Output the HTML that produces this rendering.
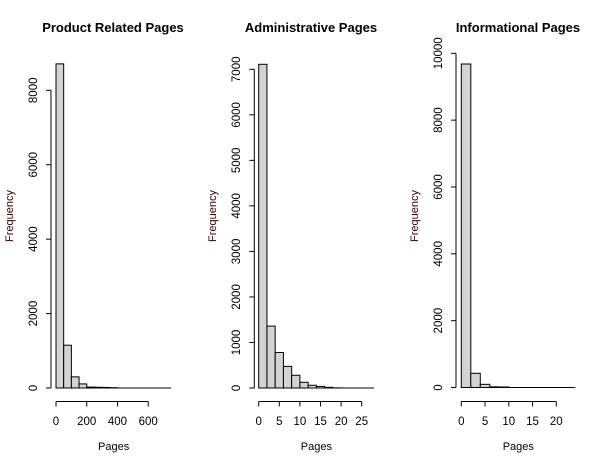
<!DOCTYPE html>
<html><head><meta charset="utf-8"><style>
body{margin:0;background:#fff;}
svg{display:block;font-family:"Liberation Sans",Arial,sans-serif;}
</style></head><body>
<svg id="chart" width="607" height="466" viewBox="0 0 607 466" xmlns="http://www.w3.org/2000/svg"></svg>
<script>
// Product Related Pages
const productBinWidth = 50;
const productCounts = [8710, 1150, 300, 110, 25, 20, 15, 8, 0, 0, 0, 0, 0, 0, 0];
const productXTicks = [0, 200, 400, 600];
const productYTicks = [0, 2000, 4000, 6000, 8000];
// Administrative Pages
const adminBinWidth = 2;
const adminCounts = [7110, 1360, 780, 475, 280, 125, 60, 35, 15, 3, 0, 0, 0, 0];
const adminXTicks = [0, 5, 10, 15, 20, 25];
const adminYTicks = [0, 1000, 2000, 3000, 4000, 5000, 6000, 7000];
// Informational Pages
const infoBinWidth = 2;
const infoCounts = [9680, 425, 95, 20, 15, 0, 0, 0, 0, 0, 0, 0];
const infoXTicks = [0, 5, 10, 15, 20];
const infoYTicks = [0, 2000, 4000, 6000, 8000, 10000];
const titles = ["Product Related Pages", "Administrative Pages", "Informational Pages"];

const svg = document.getElementById('chart');
const NS = 'http://www.w3.org/2000/svg';
function mk(tag, attrs, parent) {
  const e = document.createElementNS(NS, tag);
  for (const k in attrs) e.setAttribute(k, attrs[k]);
  (parent || svg).appendChild(e);
  return e;
}

const panels = [
  {key:'product', counts:productCounts, bw:productBinWidth, xt:productXTicks, yt:productYTicks,
   x0:56, xs:0.1537, y0:388, ys:(388-90.3)/8000, yAxisX:51, yLabX:37, freqX:9, titleX:113},
  {key:'admin', counts:adminCounts, bw:adminBinWidth, xt:adminXTicks, yt:adminYTicks,
   x0:258.7, xs:4.12, y0:388, ys:(388-69.3)/7000, yAxisX:254.3, yLabX:240, freqX:212, titleX:311},
  {key:'info', counts:infoCounts, bw:infoBinWidth, xt:infoXTicks, yt:infoYTicks,
   x0:461.3, xs:4.75, y0:387.5, ys:(387.5-53.3)/10000, yAxisX:456, yLabX:442, freqX:414, titleX:518}
];

panels.forEach((p, pi) => {
  const g = mk('g', {});
  
  
  const X = v => p.x0 + v * p.xs;
  const Y = v => p.y0 - v * p.ys;

  const t = mk('text', {x:p.titleX, y:32, 'text-anchor':'middle', 'font-size':13, 'font-weight':'bold', fill:'#000'}, g);
  t.textContent = titles[pi];
  
  

  // baseline across all bins (zero-count bars)
  const bl = mk('line', {x1:X(0), x2:X(p.counts.length*p.bw), y1:p.y0, y2:p.y0, stroke:'#000'}, g);
  
  

  p.counts.forEach((c, i) => {
    if (c <= 0) return;
    const r = mk('rect', {x:X(i*p.bw), y:Y(c), width:p.bw*p.xs, height:c*p.ys, fill:'#d3d3d3', stroke:'#000', 'stroke-width':1}, g);
    
    
  });

  // y axis
  const yt = p.yt;
  const ya = mk('line', {x1:p.yAxisX, x2:p.yAxisX, y1:Y(yt[0]), y2:Y(yt[yt.length-1]), stroke:'#000'}, g);
  
  
  yt.forEach(v => {
    mk('line', {x1:p.yAxisX-5, x2:p.yAxisX, y1:Y(v), y2:Y(v), stroke:'#000'}, g);
    const tx = mk('text', {x:0, y:0, 'text-anchor':'middle', 'font-size':11.5, fill:'#000',
      transform:`translate(${p.yLabX},${Y(v)}) rotate(-90)`}, g);
    tx.textContent = v;
    
    
  });
  const fy = mk('text', {x:0, y:0, 'text-anchor':'middle', 'font-size':11, fill:'#300',
    transform:`translate(${p.freqX+4},216) rotate(-90)`}, g);
  fy.textContent = 'Frequency';
  
  

  // x axis
  const xt = p.xt;
  const axY = 401.5;
  const xa = mk('line', {x1:X(xt[0]), x2:X(xt[xt.length-1]), y1:axY, y2:axY, stroke:'#000'}, g);
  
  
  xt.forEach(v => {
    mk('line', {x1:X(v), x2:X(v), y1:axY, y2:axY+5, stroke:'#000'}, g);
    const tx = mk('text', {x:X(v), y:425, 'text-anchor':'middle', 'font-size':11.5, fill:'#000'}, g);
    tx.textContent = v;
    
    
  });
  const xl = mk('text', {x:(X(0)+X(p.counts.length*p.bw))/2, y:450, 'text-anchor':'middle', 'font-size':11, fill:'#000'}, g);
  xl.textContent = 'Pages';
  
  
});
</script>
</body></html>
